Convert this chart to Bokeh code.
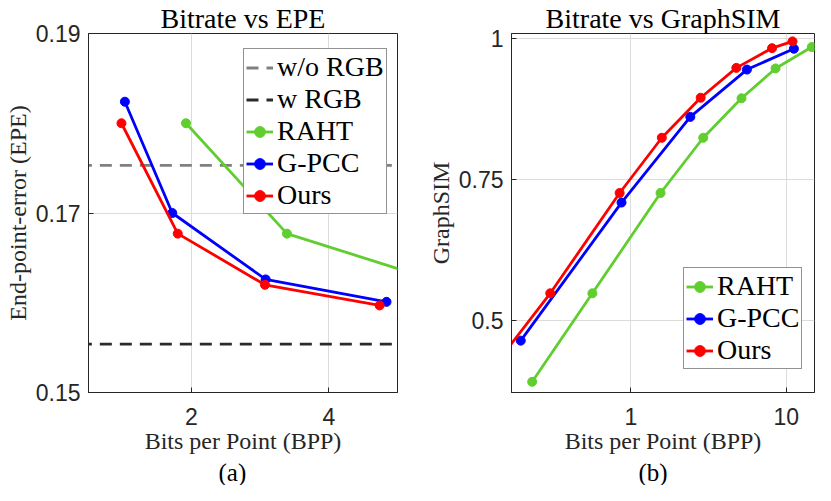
from bokeh.plotting import figure
from bokeh.models import Range1d, FixedTicker, Legend, LegendItem, Title
from bokeh.layouts import row
from bokeh.embed import file_html
from bokeh.resources import INLINE

# ---------------- data: (a) Bitrate vs EPE ----------------
epe_xticks = [2, 4]
epe_yticks = [0.15, 0.17, 0.19]
wo_rgb_epe = 0.1753
w_rgb_epe = 0.1554
raht_bpp_a = [1.92, 3.39, 6.0]
raht_epe = [0.1800, 0.1677, 0.1614]
gpcc_bpp_a = [1.03, 1.72, 3.08, 4.84]
gpcc_epe = [0.1824, 0.1700, 0.1626, 0.1601]
ours_bpp_a = [0.98, 1.80, 3.07, 4.74]
ours_epe = [0.1800, 0.1677, 0.1620, 0.1597]

# ---------------- data: (b) Bitrate vs GraphSIM ----------------
sim_xticks = [1, 10]
sim_yticks = [0.5, 0.75, 1.0]
sim_ylabels = ["0.5", "0.75", "1"]
sim_xlabels = ["1", "10"]
raht_bpp_b = [0.231, 0.564, 1.55, 2.92, 5.15, 8.53, 14.6]
raht_sim = [0.391, 0.548, 0.726, 0.824, 0.894, 0.947, 0.985]
gpcc_bpp_b = [0.195, 0.869, 2.41, 5.58, 11.2]
gpcc_sim = [0.464, 0.709, 0.861, 0.945, 0.982]
ours_bpp_b = [0.110, 0.302, 0.845, 1.58, 2.81, 4.77, 8.10, 10.97]
ours_sim = [0.391, 0.548, 0.726, 0.824, 0.895, 0.948, 0.983, 0.995]

GREEN = "#5fce2e"
BLUE = "#0000ff"
RED = "#ff0000"
AXC = "#262626"
SERIF = "Liberation Serif"
SANS = "Liberation Sans"
LW = 2.8
MS = 9
FIG_H = 485


def style_main_axis(ax, standoff, label_standoff):
    ax.axis_line_color = AXC
    ax.axis_line_width = 1
    ax.major_tick_in = 5
    ax.major_tick_out = 0
    ax.minor_tick_in = 0
    ax.minor_tick_out = 0
    ax.major_tick_line_color = AXC
    ax.major_label_text_font = SANS
    ax.major_label_text_font_size = "23px"
    ax.major_label_text_color = AXC
    ax.major_label_standoff = standoff
    ax.axis_label_text_font = SERIF
    ax.axis_label_text_font_size = "24px"
    ax.axis_label_text_font_style = "normal"
    ax.axis_label_text_color = AXC
    ax.axis_label_standoff = label_standoff


def base_fig(width, border_left, border_right, title, sub, sub_offset, **kw):
    p = figure(width=width, height=FIG_H, output_backend="svg", toolbar_location=None,
               min_border_left=border_left, min_border_right=border_right,
               min_border_top=25, min_border_bottom=90, **kw)
    p.title.text = title
    p.title.align = "center"
    p.title.text_font = SERIF
    p.title.text_font_size = "28px"
    p.title.text_font_style = "normal"
    p.title.text_color = "black"
    p.title.standoff = 0
    p.outline_line_color = AXC
    p.outline_line_width = 1
    p.background_fill_color = "white"
    p.border_fill_color = "white"
    p.add_layout(Title(text=sub, align="left", offset=sub_offset, text_font=SERIF,
                       text_font_size="25px", text_font_style="normal",
                       text_color="black", standoff=0), "below")
    return p


def make_legend(p, items, loc):
    leg = Legend(items=items, location=loc)
    leg.label_text_font = SERIF
    leg.label_text_font_size = "28px"
    leg.label_text_color = "black"
    leg.glyph_width = 27
    leg.glyph_height = 31
    leg.label_height = 31
    leg.label_standoff = 4
    leg.spacing = 0
    leg.padding = 2
    leg.margin = 0
    leg.border_line_color = AXC
    leg.border_line_width = 1
    leg.background_fill_color = "white"
    leg.background_fill_alpha = 1.0
    p.add_layout(leg, "center")


def series(p, xs, ys, color):
    l = p.line(xs, ys, line_color=color, line_width=LW)
    s = p.scatter(xs, ys, marker="circle", size=MS, fill_color=color, line_color=color)
    return [l, s]


# ---------------- figure (a) ----------------
pa = base_fig(405, 88, 8, "Bitrate vs EPE", "(a)", 130,
              x_range=Range1d(0.5, 5), y_range=Range1d(0.15, 0.19))
xt = FixedTicker(ticks=epe_xticks)
yt = FixedTicker(ticks=epe_yticks)
pa.xaxis.ticker = xt
pa.yaxis.ticker = yt
pa.xgrid.ticker = xt
pa.ygrid.ticker = yt
for g in (pa.xgrid, pa.ygrid):
    g.grid_line_color = "#dcdcdc"
    g.grid_line_width = 1
style_main_axis(pa.xaxis[0], 15, 0)
style_main_axis(pa.yaxis[0], 8, 2)
pa.xaxis.axis_label = "Bits per Point (BPP)"
pa.yaxis.axis_label = "End-point-error (EPE)"

xr = [pa.x_range.start - 1, pa.x_range.end + 1]
l_wo = pa.line(xr, [wo_rgb_epe, wo_rgb_epe], line_color="#808080", line_width=LW, line_dash="12 8")
l_w = pa.line(xr, [w_rgb_epe, w_rgb_epe], line_color="#2b2b2b", line_width=LW, line_dash="12 8")
r_raht = series(pa, raht_bpp_a, raht_epe, GREEN)
r_gpcc = series(pa, gpcc_bpp_a, gpcc_epe, BLUE)
r_ours = series(pa, ours_bpp_a, ours_epe, RED)
make_legend(pa, [
    LegendItem(label="w/o RGB", renderers=[l_wo]),
    LegendItem(label="w RGB", renderers=[l_w]),
    LegendItem(label="RAHT", renderers=r_raht),
    LegendItem(label="G-PCC", renderers=r_gpcc),
    LegendItem(label="Ours", renderers=r_ours),
], (155, 178))

# ---------------- figure (b) ----------------
pb = base_fig(410, 106, 1, "Bitrate vs GraphSIM", "(b)", 127,
              x_axis_type="log", x_range=Range1d(0.17, 15.2), y_range=Range1d(0.372, 1.009))
xt2 = FixedTicker(ticks=sim_xticks)
yt2 = FixedTicker(ticks=sim_yticks)
pb.xaxis.ticker = xt2
pb.yaxis.ticker = yt2
pb.xgrid.ticker = xt2
pb.ygrid.ticker = yt2
for g in (pb.xgrid, pb.ygrid):
    g.grid_line_color = "#dcdcdc"
    g.grid_line_width = 1
style_main_axis(pb.xaxis[0], 15, 0)
style_main_axis(pb.yaxis[0], 8, 2)
pb.xaxis.major_label_overrides = dict(zip(sim_xticks, sim_xlabels))
pb.yaxis.major_label_overrides = dict(zip(sim_yticks, sim_ylabels))
pb.xaxis.axis_label = "Bits per Point (BPP)"
pb.yaxis.axis_label = "GraphSIM"

b_raht = series(pb, raht_bpp_b, raht_sim, GREEN)
b_gpcc = series(pb, gpcc_bpp_b, gpcc_sim, BLUE)
b_ours = series(pb, ours_bpp_b, ours_sim, RED)
make_legend(pb, [
    LegendItem(label="RAHT", renderers=b_raht),
    LegendItem(label="G-PCC", renderers=b_gpcc),
    LegendItem(label="Ours", renderers=b_ours),
], (172, 23))

layout = row(pa, pb)
open("out.html", "w").write(file_html(layout, INLINE))
